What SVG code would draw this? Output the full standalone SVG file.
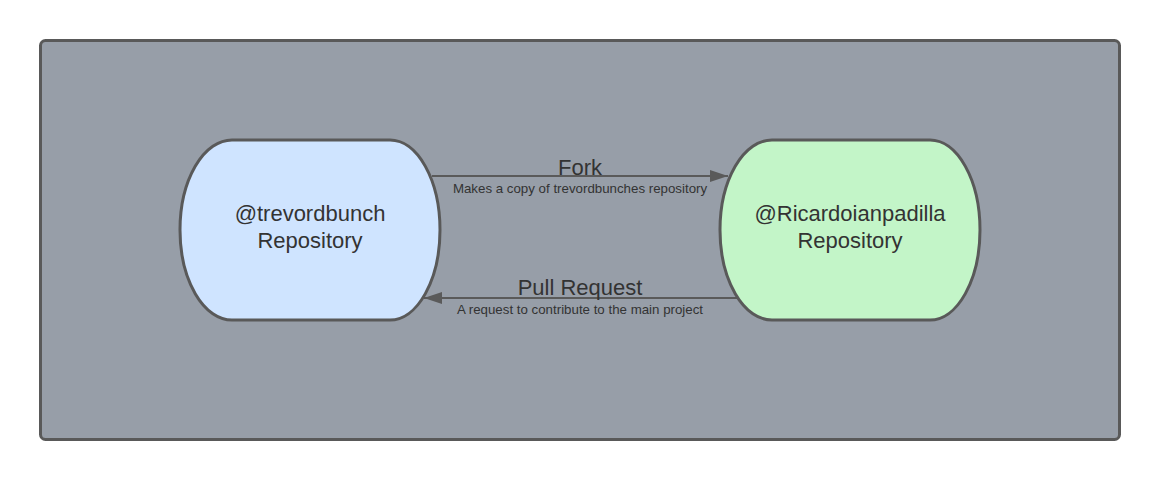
<svg xmlns="http://www.w3.org/2000/svg" width="1160" height="480" viewBox="0 0 1160 480">
<defs>
<style>
.node{stroke:#595959;stroke-width:3}
.lbl{font-family:"Liberation Sans",Arial,sans-serif;fill:#333333;text-anchor:middle}
.big{font-size:22px}
.small{font-size:13.3px}
.conn{stroke:#5a5a5a;stroke-width:2;fill:none}
</style>
<marker id="arrh" viewBox="0 0 18 12" refX="18" refY="6" markerWidth="18" markerHeight="12" markerUnits="userSpaceOnUse" orient="auto">
<path d="M0,0 L18,6 L0,12 z" fill="#5a5a5a"/>
</marker>
</defs>
<rect width="1160" height="480" fill="#ffffff"/>
<g id="container">
<rect x="40.5" y="40.5" width="1079" height="399" rx="5" fill="#979ea8" stroke="#595959" stroke-width="3"/>
</g>
<g id="connectors">
<line class="conn" x1="432" y1="176" x2="728" y2="176" marker-end="url(#arrh)"/>
<line class="conn" x1="738" y1="298" x2="424" y2="298" marker-end="url(#arrh)"/>
<text class="lbl big" x="580" y="175">Fork</text>
<text class="lbl small" x="580" y="192.5">Makes a copy of trevordbunches repository</text>
<text class="lbl big" x="580" y="295">Pull Request</text>
<text class="lbl small" x="580" y="314">A request to contribute to the main project</text>
</g>
<g id="node-trevordbunch">
<path class="node" fill="#cfe4ff" d="M232 140 H390 A50 90 0 0 1 390 320 H232 A52 90 0 0 1 232 140 Z"/>
<text class="lbl big" x="310" y="221">@trevordbunch</text>
<text class="lbl big" x="310" y="248">Repository</text>
</g>
<g id="node-ricardoianpadilla">
<path class="node" fill="#c3f5c8" d="M772 140 H930 A50 90 0 0 1 930 320 H772 A52 90 0 0 1 772 140 Z"/>
<text class="lbl big" x="850" y="221">@Ricardoianpadilla</text>
<text class="lbl big" x="850" y="248">Repository</text>
</g>
</svg>
